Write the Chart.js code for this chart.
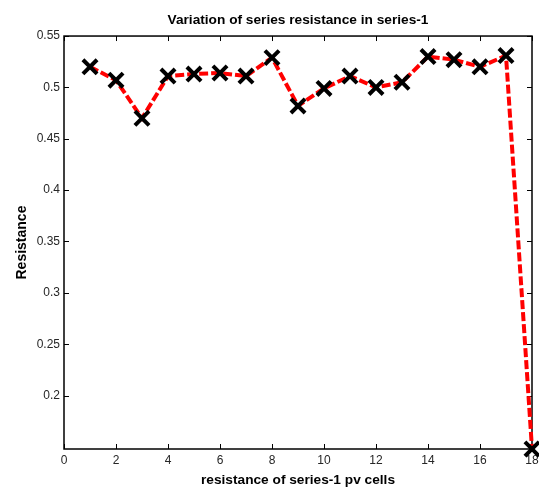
<!DOCTYPE html>
<html>
<head>
<meta charset="utf-8">
<title>Variation of series resistance in series-1</title>
<script src="https://cdn.jsdelivr.net/npm/chart.js@4.4.0/dist/chart.umd.min.js"></script>
<style>
    html, body { margin: 0; padding: 0; background: #fff; }
    #grafico-container { width: 539px; height: 490px; }
</style>
</head>
<body>
<div id="grafico-container"><canvas id="grafico"></canvas></div>
<script>
// Dados (células da série 1)
const celulas = [1, 2, 3, 4, 5, 6, 7, 8, 9, 10, 11, 12, 13, 14, 15, 16, 17, 18];
const resistencias = [0.520, 0.507, 0.470, 0.511, 0.513, 0.514, 0.511, 0.529, 0.482,
                      0.499, 0.511, 0.500, 0.505, 0.530, 0.527, 0.520, 0.531, 0.148];
const ticksX = [0, 2, 4, 6, 8, 10, 12, 14, 16, 18];
const ticksY = [0.2, 0.25, 0.3, 0.35, 0.4, 0.45, 0.5, 0.55];

const pontos = celulas.map((c, i) => ({ x: c, y: resistencias[i] }));

const fonte = 'Arial, "Liberation Sans", sans-serif';

// Plugin para desenhar a moldura e os ticks para dentro (estilo MATLAB)
const moldura = {
    id: 'moldura',
    beforeDatasetsDraw(chart) {
        const { ctx, chartArea: area, scales } = chart;
        const tam = 5;
        ctx.save();
        ctx.strokeStyle = '#000';
        ctx.lineWidth = 1;
        ctx.beginPath();
        scales.x.ticks.forEach(t => {
            const px = Math.round(scales.x.getPixelForValue(t.value)) + 0.5;
            ctx.moveTo(px, area.bottom);
            ctx.lineTo(px, area.bottom - tam);
            ctx.moveTo(px, area.top);
            ctx.lineTo(px, area.top + tam);
        });
        scales.y.ticks.forEach(t => {
            const py = Math.round(scales.y.getPixelForValue(t.value)) + 0.5;
            ctx.moveTo(area.left, py);
            ctx.lineTo(area.left + tam, py);
            ctx.moveTo(area.right, py);
            ctx.lineTo(area.right - tam, py);
        });
        ctx.stroke();
        ctx.lineWidth = 1.5;
        ctx.strokeRect(area.left, area.top, area.right - area.left, area.bottom - area.top);
        ctx.restore();
    }
};

const ctx = document.getElementById('grafico').getContext('2d');

let meuGrafico = new Chart(ctx, {
    type: 'line',
    data: {
        datasets: [{
            data: pontos,
            borderColor: '#ff0000',
            borderWidth: 4,
            borderDash: [9, 3],
            fill: false,
            tension: 0,
            clip: false,
            pointStyle: 'crossRot',
            pointRadius: 10,
            pointHoverRadius: 10,
            pointBorderWidth: 4,
            pointBorderColor: '#000',
            pointBackgroundColor: '#000'
        }]
    },
    options: {
        responsive: true,
        maintainAspectRatio: false,
        animation: false,
        layout: {
            autoPadding: false,
            padding: { left: 0, right: 7, top: 0, bottom: 0 }
        },
        scales: {
            x: {
                type: 'linear',
                min: 0,
                max: 18,
                grid: { display: false, drawTicks: false },
                border: { display: false },
                afterBuildTicks: function(scale) {
                    scale.ticks = ticksX.map(v => ({ value: v }));
                },
                afterFit: function(scale) {
                    scale.height = 41;
                    // sem espaço extra para o último rótulo
                    scale.paddingLeft = 0;
                    scale.paddingRight = 0;
                },
                ticks: {
                    padding: 4,
                    color: '#262626',
                    font: { family: fonte, size: 12 },
                    maxRotation: 0,
                    callback: v => String(v)
                },
                title: {
                    display: true,
                    text: 'resistance of series-1 pv cells',
                    color: '#000',
                    font: { family: fonte, size: 13.7, weight: 'bold' },
                    padding: { top: 0, bottom: 1.8 }
                }
            },
            y: {
                type: 'linear',
                min: 0.148,
                max: 0.55,
                grid: { display: false, drawTicks: false },
                border: { display: false },
                afterBuildTicks: function(scale) {
                    scale.ticks = ticksY.map(v => ({ value: v }));
                },
                afterFit: function(scale) {
                    scale.width = 64;
                    scale.paddingTop = 0;
                    scale.paddingBottom = 0;
                },
                ticks: {
                    padding: 4,
                    color: '#262626',
                    font: { family: fonte, size: 12 },
                    callback: v => String(+v.toFixed(2))
                },
                title: {
                    display: true,
                    text: 'Resistance',
                    color: '#000',
                    font: { family: fonte, size: 14, weight: 'bold' },
                    padding: { top: 13.6, bottom: 0 }
                }
            }
        },
        plugins: {
            legend: { display: false },
            tooltip: { enabled: false },
            title: {
                display: true,
                text: 'Variation of series resistance in series-1',
                fullSize: false,
                color: '#000',
                font: { family: fonte, size: 13.7, weight: 'bold' },
                padding: { top: 11.8, bottom: 7.8 }
            }
        }
    },
    plugins: [moldura]
});
</script>
</body>
</html>
